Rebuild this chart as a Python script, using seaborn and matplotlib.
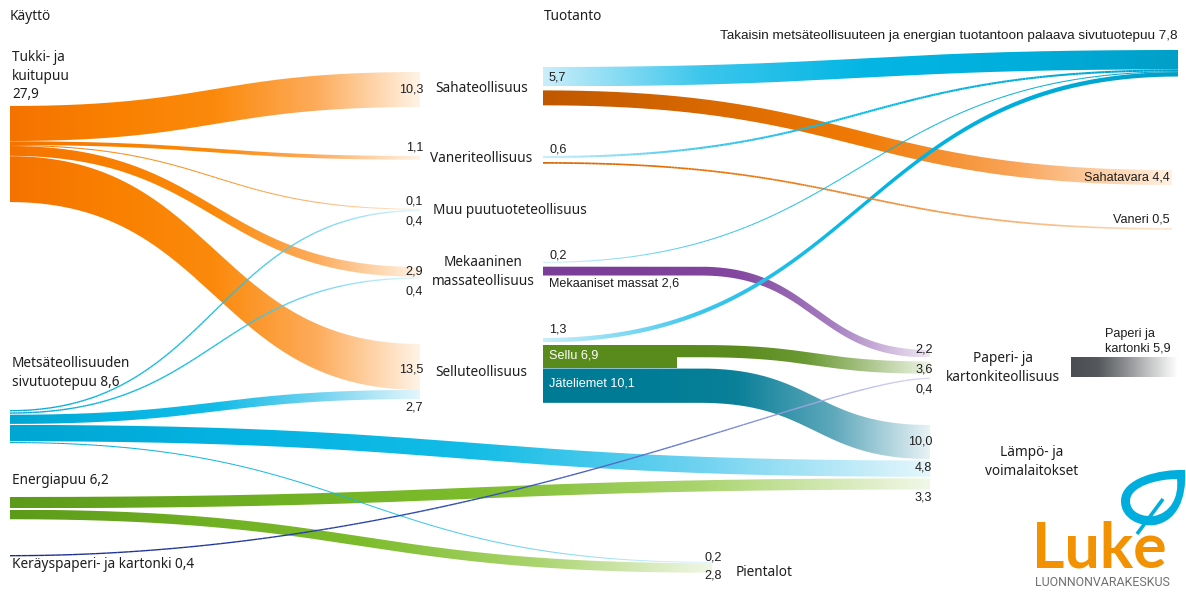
import numpy as np
import matplotlib.pyplot as plt
import seaborn as sns
from matplotlib.path import Path
from matplotlib.patches import PathPatch, Rectangle
from matplotlib.collections import LineCollection

sns.set_theme(style="white")
plt.rcParams["font.family"] = ["Noto Sans", "DejaVu Sans"]

# ── Data (million m³) ─────────────────────────────────────────────────────────
flow_src = ["tukki", "tukki", "tukki", "tukki", "tukki",
            "metsa", "metsa", "metsa", "metsa", "metsa",
            "energia", "energia", "kerays",
            "saha", "saha", "vaneri", "vaneri", "mek", "mek",
            "selluind", "sellu", "jate", "paperi"]
flow_dst = ["saha", "vaneri", "muu", "mek", "selluind",
            "muu", "mek", "selluind", "lampo", "pientalot",
            "lampo", "pientalot", "paperi",
            "takaisin", "sahatavara", "takaisin", "vaneriout", "takaisin", "paperi",
            "takaisin", "paperi", "lampo", "paperiout"]
flow_out = [10.3, 1.1, 0.1, 2.9, 13.5,
            0.4, 0.4, 2.7, 4.8, 0.2,
            3.3, 2.8, 0.4,
            5.7, 4.4, 0.6, 0.5, 0.2, 2.6,
            1.3, 3.6, 10.1, 5.9]
flow_in = [10.3, 1.1, 0.1, 2.9, 13.5,
           0.4, 0.4, 2.7, 4.8, 0.2,
           3.3, 2.8, 0.4,
           5.7, 4.4, 0.6, 0.5, 0.2, 2.2,
           1.3, 3.6, 10.0, 5.9]

total_tukki = 27.9
total_metsa = 8.6
total_energia = 6.2
total_kerays = 0.4
total_mekmassat = 2.6
total_sellu = 6.9
total_jate = 10.1
total_takaisin = 7.8
total_sahatavara = 4.4
total_vaneri = 0.5
total_paperi = 5.9

# ── Layout (pixels) ──────────────────────────────────────────────────────────
K = 3.4   # px per unit
NODE = {
    # name: x_in, top_in, gap_in, x_out, top_out, gap_out
    "tukki":      (None, None, 0, 10, 106, 0.3),
    "metsa":      (None, None, 0, 10, 410, 1.0),
    "energia":    (None, None, 0, 10, 497, 1.5),
    "kerays":     (None, None, 0, 10, 555, 0),
    "saha":       (420, 72, 0, 543, 67, 4),
    "vaneri":     (420, 156, 0, 543, 156, 4),
    "muu":        (420, 209, 0.5, None, None, 0),
    "mek":        (420, 267, 0.5, 543, 262, 4),
    "selluind":   (420, 344, 0, 543, 338, 0),
    "sellu":      (None, None, 0, 677, 345, 0),
    "jate":       (None, None, 0, 543, 368.5, 0),
    "paperi":     (930, 350, 4, 1071, 357, 0),
    "lampo":      (930, 425, 1.5, None, None, 0),
    "pientalot":  (712, 562, 0.5, None, None, 0),
    "takaisin":   (1178, 50, 0, None, None, 0),
    "sahatavara": (1172, 170, 0, None, None, 0),
    "vaneriout":  (1172, 228, 0, None, None, 0),
    "paperiout":  (1178, 357, 0, None, None, 0),
}
SELLU_BLOCK_X0 = 543

GRAD = {
    "orange":    ["#f47300", "#f98000", "#fb8a0c", "#fdac5c", "#fff3e6"],
    "cyan":      ["#00a6d2", "#05b3e2", "#12bce6", "#6fd2f0", "#e4f6fc"],
    "cyanback":  ["#c9eefa", "#3cc6ec", "#05b6e4", "#00aedb", "#009fc8"],
    "green":     ["#5c9a1a", "#6eae22", "#7cbc2c", "#aad46e", "#f0f7e6"],
    "navy":      ["#1b2a8a", "#2038a0", "#2c4cb4", "#6a7cd0", "#d8d8f0"],
    "brown":     ["#c05800", "#d86800", "#f07a04", "#f9a458", "#fff1e2"],
    "vorange":   ["#d86400", "#e87000", "#f08020", "#f7b070", "#fde6d0"],
    "purple":    ["#7a3d98", "#7c4099", "#83479f", "#a57ec0", "#eee6f3"],
    "olive":     ["#598a1c", "#5c8c20", "#6a9832", "#a8c488", "#eef3e6"],
    "teal":      ["#007b96", "#007c97", "#0a8099", "#5ea8bb", "#e8f2f5"],
    "grey":      ["#4a4d51", "#54575b", "#8a8c8f", "#c8c9ca", "#ffffff"],
}
flow_grad = ["orange"] * 5 + ["cyan"] * 5 + ["green", "green", "navy",
             "cyanback", "brown", "cyanback", "vorange", "cyanback", "purple",
             "cyanback", "olive", "teal", "grey"]
flow_hold = {18: 700, 20: 700, 21: 700}         # straight part before the curve
flow_ctrl = {12: (0.5, 0.12)}                   # bezier control fractions

# ── Stack the flows at each node ─────────────────────────────────────────────
n = len(flow_src)
y_out, y_in = {}, {}
for name, (xi, ti, gi, xo, to, go) in NODE.items():
    outs = sorted([i for i in range(n) if flow_src[i] == name],
                  key=lambda i: NODE[flow_dst[i]][1])
    y = to
    for i in outs:
        y_out[i] = y
        y += flow_out[i] * K + go
    ins = sorted([i for i in range(n) if flow_dst[i] == name],
                 key=lambda i: NODE[flow_src[i]][4])
    y = ti
    for i in ins:
        y_in[i] = y
        y += flow_in[i] * K + gi


def bez(p0, p1, p2, p3, t):
    t = t[:, None]
    return ((1 - t) ** 3 * p0 + 3 * (1 - t) ** 2 * t * p1
            + 3 * (1 - t) * t ** 2 * p2 + t ** 3 * p3)


fig = plt.figure(figsize=(11.86, 5.92), dpi=100, facecolor="white")
ax = fig.add_axes([0, 0, 1, 1])
ax.axis("off")

grad_row = np.linspace(0, 1, 256)[None, :]

for i in range(n):
    x0 = NODE[flow_src[i]][3]
    x1 = NODE[flow_dst[i]][0]
    y0, y1 = y_out[i], y_in[i]
    w0, w1 = flow_out[i] * K, flow_in[i] * K
    xa = flow_hold.get(i, x0)
    c0, c1 = flow_ctrl.get(i, (0.5, 0.5))
    t = np.linspace(0, 1, 240)
    dx = x1 - xa
    pts = bez(np.array([xa, y0]), np.array([xa + c0 * dx, y0]),
              np.array([x1 - c1 * dx, y1]), np.array([x1, y1]), t)
    xs, top = pts[:, 0], pts[:, 1]
    ww = w0 + (w1 - w0) * t
    if xa > x0:
        xs = np.r_[x0, xs]
        top = np.r_[y0, top]
        ww = np.r_[w0, ww]
    cmap = sns.blend_palette(GRAD[flow_grad[i]], as_cmap=True)
    if w0 < 3:
        mid = top + ww / 2
        segs = np.stack([np.c_[xs[:-1], mid[:-1]], np.c_[xs[1:], mid[1:]]], axis=1)
        cols = cmap((xs[:-1] - x0) / (x1 - x0))
        lw = max(w0, 1.0) * 0.72
        ax.add_collection(LineCollection(segs, colors=cols, linewidths=lw,
                                         capstyle="butt"))
    else:
        bot = top + ww
        verts = np.r_[np.c_[xs, top], np.c_[xs[::-1], bot[::-1]]]
        patch = PathPatch(Path(verts), facecolor="none", edgecolor="none")
        ax.add_patch(patch)
        im = ax.imshow(grad_row, cmap=cmap, aspect="auto", interpolation="bilinear",
                       extent=(x0, x1, bot.max(), top.min()))
        im.set_clip_path(patch)

# Sellu block
sellu_top = NODE["sellu"][4]
ax.add_patch(Rectangle((SELLU_BLOCK_X0, sellu_top), NODE["sellu"][3] - SELLU_BLOCK_X0,
                       total_sellu * K, facecolor="#598a1c", edgecolor="none", zorder=2))


def fmt(v):
    return f"{v:.1f}".replace(".", ",")


LAB = dict(family=["Noto Sans", "DejaVu Sans"], fontsize=9.8, color="#1e1e1e")
NUM = dict(family=["Liberation Sans", "DejaVu Sans"], fontsize=9.1, color="#1e1e1e")

# headings
ax.text(10, 16, "Käyttö", va="center", **LAB)
ax.text(544, 16, "Tuotanto", va="center", **LAB)

# sources
ax.text(12, 76, f"Tukki- ja\nkuitupuu\n{fmt(total_tukki)}", va="center", linespacing=1.3, **LAB)
ax.text(12, 373, f"Metsäteollisuuden\nsivutuotepuu {fmt(total_metsa)}", va="center",
        linespacing=1.3, **LAB)
ax.text(12, 481, f"Energiapuu {fmt(total_energia)}", va="center", **LAB)
ax.text(12, 564, f"Keräyspaperi- ja kartonki {fmt(total_kerays)}", va="center", **LAB)

# industries
ax.text(435, 89, "Sahateollisuus", va="center", **LAB)
ax.text(430, 159, "Vaneriteollisuus", va="center", **LAB)
ax.text(433, 210, "Muu puutuoteteollisuus", va="center", **LAB)
ax.text(483, 272, "Mekaaninen\nmassateollisuus", va="center", ha="center", linespacing=1.3, **LAB)
ax.text(435, 372, "Selluteollisuus", va="center", **LAB)
ax.text(1003, 368, "Paperi- ja\nkartonkiteollisuus", va="center", ha="center", linespacing=1.3, **LAB)
ax.text(1032, 462, "Lämpö- ja\nvoimalaitokset", va="center", ha="center", linespacing=1.3, **LAB)
ax.text(736, 572, "Pientalot", va="center", **LAB)

# values at arrival
in_lab = {0: (423, 90), 1: (423, 147), 2: (423, 201), 5: (423, 221), 3: (423, 271),
          6: (423, 292), 4: (423, 369), 7: (423, 407), 18: (933, 349), 20: (933, 370),
          12: (933, 390), 21: (932, 441), 8: (932, 467), 10: (932, 497),
          9: (722, 557), 11: (722, 575)}
for i, (x, y) in in_lab.items():
    ax.text(x, y, fmt(flow_in[i]), ha="right", va="center", **NUM)

# values at departure
out_lab = {13: (549, 77), 15: (549, 150), 17: (549, 255), 19: (549, 330)}
for i, (x, y) in out_lab.items():
    ax.text(x, y, fmt(flow_out[i]), ha="left", va="center", **NUM)

ax.text(549, 283, f"Mekaaniset massat {fmt(total_mekmassat)}", va="center", **NUM)
ax.text(549, 356, f"Sellu {fmt(total_sellu)}", va="center", zorder=5,
        **{**NUM, "color": "white"})
ax.text(549, 383, f"Jäteliemet {fmt(total_jate)}", va="center", zorder=5,
        **{**NUM, "color": "white"})

# products
ax.text(1178, 36, "Takaisin metsäteollisuuteen ja energian tuotantoon palaava "
        f"sivutuotepuu {fmt(total_takaisin)}", ha="right", va="center",
        **{**NUM, "fontsize": 9.7})
ax.text(1170, 178, f"Sahatavara {fmt(total_sahatavara)}", ha="right", va="center", **NUM)
ax.text(1170, 220, f"Vaneri {fmt(total_vaneri)}", ha="right", va="center", **NUM)
ax.text(1105, 341, f"Paperi ja\nkartonki {fmt(total_paperi)}", ha="left", va="center",
        linespacing=1.25, **NUM)

# ── Luke logo ────────────────────────────────────────────────────────────────
LUKE_CYAN = "#00aede"
leaf_out = Path([(1185, 470), (1160, 469), (1121, 478), (1121, 501),
                 (1121, 519), (1140, 527), (1155, 525),
                 (1176, 521), (1187, 500), (1185, 470), (1185, 470)],
                [Path.MOVETO] + [Path.CURVE4] * 9 + [Path.CLOSEPOLY])
leaf_in = Path([(1177, 479), (1158, 479), (1130, 486), (1130, 501),
                (1130, 513), (1143, 517), (1154, 516),
                (1170, 513), (1179, 498), (1177, 479), (1177, 479)],
               [Path.MOVETO] + [Path.CURVE4] * 9 + [Path.CLOSEPOLY])
ax.add_patch(PathPatch(leaf_out, facecolor=LUKE_CYAN, edgecolor="none"))
ax.add_patch(PathPatch(leaf_in, facecolor="white", edgecolor="none"))
ax.plot([1137, 1163], [534, 499], color=LUKE_CYAN, lw=2.6, solid_capstyle="butt")
ax.text(1032, 567, "Luke", family=["Lato", "DejaVu Sans"], fontweight="bold",
        fontsize=45, color="#f39200", va="baseline")
ax.text(1035, 583, "LUONNONVARAKESKUS", family=["Roboto", "DejaVu Sans"],
        fontsize=8.9, color="#6f7072", va="center")

ax.set_xlim(0, 1186)
ax.set_ylim(592, 0)
fig.savefig("out.png", dpi=100, facecolor="white")
